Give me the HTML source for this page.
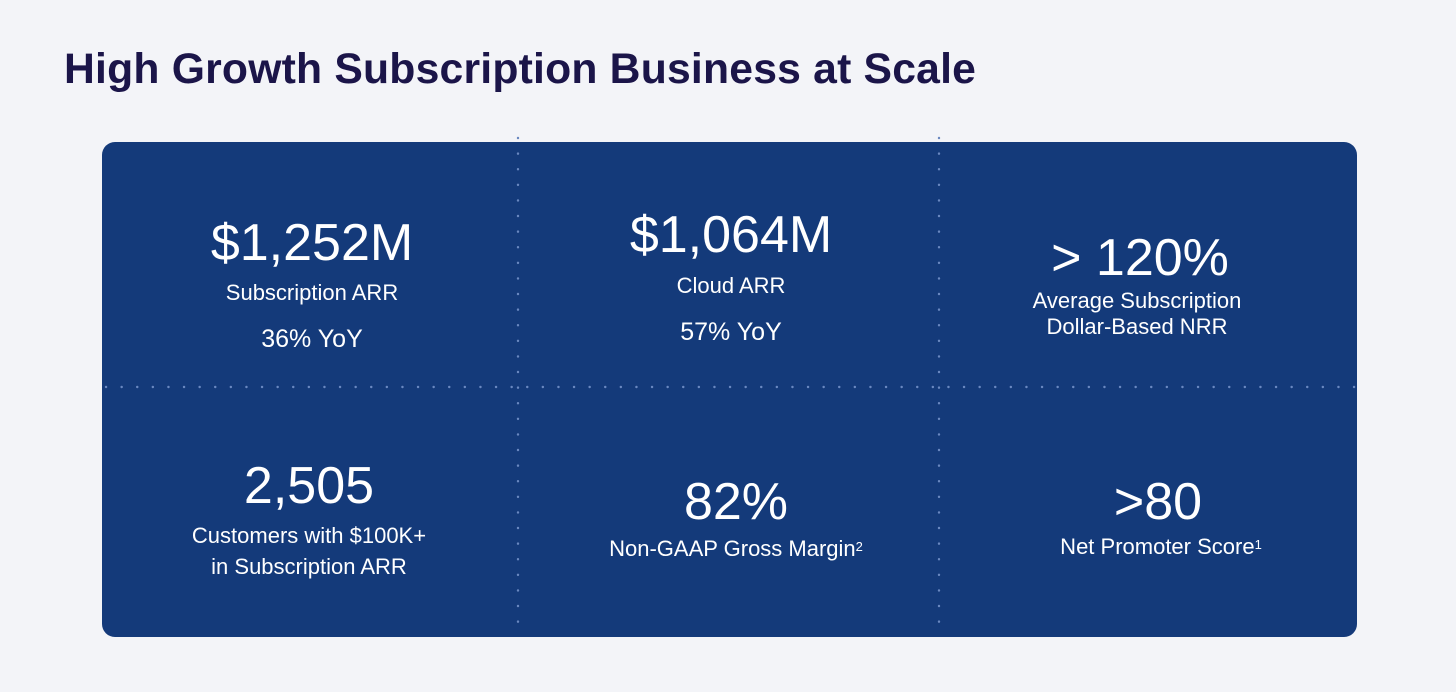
<!DOCTYPE html>
<html><head><meta charset="utf-8">
<style>
body{margin:0;width:1456px;height:692px;background:#f3f4f8;font-family:"Liberation Sans",Arial,sans-serif;position:relative;overflow:hidden}
.title{position:absolute;left:64px;top:45px;font-size:42.7px;font-weight:bold;color:#1b1549;letter-spacing:0.2px}
.panel{position:absolute;left:102px;top:142px;width:1255px;height:495px;background:#143a7a;border-radius:13px}
.t{position:absolute;color:#fff;text-align:center;transform:translateX(-50%);white-space:nowrap}
.big{font-size:52px}
.lab{font-size:22px;line-height:26px}
.yoy{font-size:25px;line-height:29px}
sup{font-size:13px;vertical-align:top;position:relative;top:-2px}
</style></head><body>
<div class="title">High Growth Subscription Business at Scale</div>
<div class="panel"></div>
<svg style="position:absolute;left:0;top:0" width="1456" height="692">
<line x1="518" y1="138" x2="518" y2="630" stroke="#6a88c0" stroke-width="2.4" stroke-dasharray="0.1 15.5" stroke-linecap="round"/>
<line x1="939" y1="138" x2="939" y2="630" stroke="#6a88c0" stroke-width="2.4" stroke-dasharray="0.1 15.5" stroke-linecap="round"/>
<line x1="106" y1="387" x2="1356" y2="387" stroke="#6a88c0" stroke-width="2.4" stroke-dasharray="0.1 15.5" stroke-linecap="round"/>
</svg>
<div class="t big" style="left:312px;top:213px">$1,252M</div>
<div class="t lab" style="left:312px;top:280px">Subscription ARR</div>
<div class="t yoy" style="left:312px;top:325px">36% YoY</div>

<div class="t big" style="left:731px;top:205px">$1,064M</div>
<div class="t lab" style="left:731px;top:273px">Cloud ARR</div>
<div class="t yoy" style="left:731px;top:318px">57% YoY</div>

<div class="t big" style="left:1140px;top:228px">&gt; 120%</div>
<div class="t lab" style="left:1137px;top:288px">Average Subscription<br>Dollar-Based NRR</div>

<div class="t big" style="left:309px;top:456px">2,505</div>
<div class="t lab" style="left:309px;top:520px;line-height:31px">Customers with $100K+<br>in Subscription ARR</div>

<div class="t big" style="left:736px;top:472px">82%</div>
<div class="t lab" style="left:736px;top:536px">Non-GAAP Gross Margin<sup>2</sup></div>

<div class="t big" style="left:1158px;top:472px">&gt;80</div>
<div class="t lab" style="left:1161px;top:534px">Net Promoter Score<sup>1</sup></div>
</body></html>
